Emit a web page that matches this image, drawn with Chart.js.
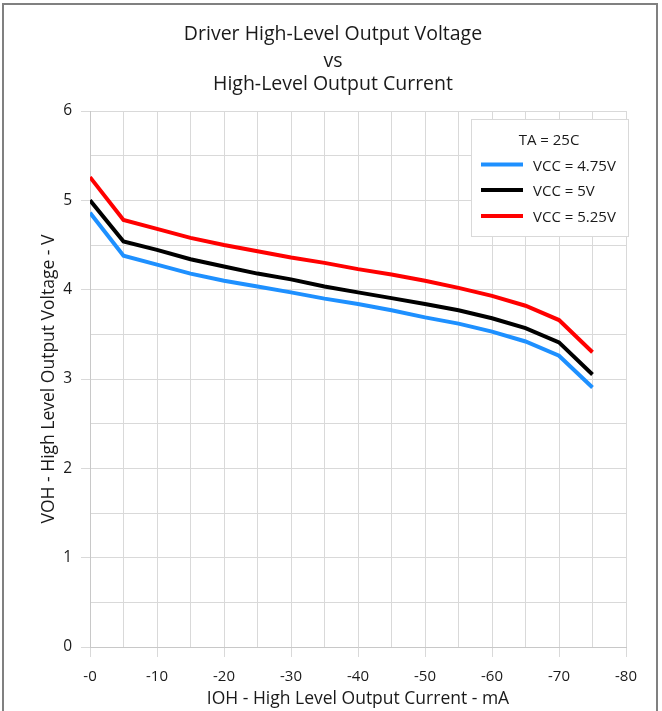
<!DOCTYPE html>
<html>
<head>
<meta charset="utf-8">
<script src="https://cdn.jsdelivr.net/npm/chart.js@4.4.1/dist/chart.umd.min.js"></script>
<style>
  html, body { margin: 0; padding: 0; background: #ffffff; }
  #wrap { width: 662px; height: 711px; position: relative; }
  canvas { display: block; }
</style>
</head>
<body>
<div id="wrap"><canvas id="c" width="662" height="711"></canvas></div>
<script>
// ---- data ----
const currents = [0, -5, -10, -15, -20, -25, -30, -35, -40, -45, -50, -55, -60, -65, -70, -75];
const voh475 = [4.86, 4.38, 4.28, 4.18, 4.10, 4.035, 3.97, 3.90, 3.84, 3.77, 3.69, 3.62, 3.53, 3.42, 3.26, 2.905];
const voh500 = [5.00, 4.54, 4.445, 4.34, 4.26, 4.18, 4.115, 4.035, 3.97, 3.905, 3.84, 3.77, 3.68, 3.57, 3.41, 3.05];
const voh525 = [5.26, 4.78, 4.68, 4.58, 4.50, 4.43, 4.36, 4.30, 4.23, 4.17, 4.10, 4.02, 3.93, 3.82, 3.66, 3.30];
const seriesLabels = ['VCC = 4.75V', 'VCC = 5V', 'VCC = 5.25V'];
const legendTitle = 'TA = 25C';
const titleLines = ['Driver High-Level Output Voltage', 'vs', 'High-Level Output Current'];
const xTickValues = [0, -10, -20, -30, -40, -50, -60, -70, -80];
const xTickLabels = ['-0', '-10', '-20', '-30', '-40', '-50', '-60', '-70', '-80'];
const yTickValues = [0, 1, 2, 3, 4, 5, 6];
const yTickLabels = ['0', '1', '2', '3', '4', '5', '6'];
const xTitle = 'IOH - High Level Output Current - mA';
const yTitle = 'VOH - High Level Output Voltage - V';

const FONT = "'Open Sans', 'Noto Sans', sans-serif";
const TEXT = '#1a1a1a';
const GRID = '#d9d9d9';
const colors = ['rgb(30,144,255)', '#000000', '#ff0000'];

function pts(ys) { return currents.map((x, i) => ({ x: x, y: ys[i] })); }

const decor = {
  id: 'decor',
  afterDraw(chart) {
    const ctx = chart.ctx;
    ctx.save();
    // outer frame
    ctx.strokeStyle = '#808080';
    ctx.lineWidth = 2;
    ctx.strokeRect(3, 4, 654, 730);
    // title
    ctx.fillStyle = TEXT;
    ctx.textAlign = 'center';
    ctx.textBaseline = 'alphabetic';
    ctx.font = '19.5px ' + FONT;
    const baselines = [40, 67, 90];
    titleLines.forEach((t, i) => ctx.fillText(t, 333, baselines[i]));
    // legend box
    ctx.fillStyle = '#ffffff';
    ctx.fillRect(471.5, 119.5, 157, 117);
    ctx.strokeStyle = GRID;
    ctx.lineWidth = 1;
    ctx.strokeRect(471.5, 119.5, 157, 117);
    ctx.fillStyle = TEXT;
    ctx.font = '15px ' + FONT;
    ctx.textAlign = 'center';
    ctx.fillText(legendTitle, 549, 145);
    const rows = [164.5, 190, 216];
    chart.data.datasets.forEach((ds, i) => {
      ctx.strokeStyle = ds.borderColor;
      ctx.lineWidth = 4;
      ctx.beginPath();
      ctx.moveTo(481, rows[i]);
      ctx.lineTo(523, rows[i]);
      ctx.stroke();
      ctx.fillStyle = TEXT;
      ctx.textAlign = 'left';
      ctx.fillText(ds.label, 533, rows[i] + 6);
    });
    ctx.restore();
  }
};

new Chart(document.getElementById('c'), {
  type: 'line',
  data: {
    datasets: [
      { label: seriesLabels[0], data: pts(voh475), borderColor: colors[0], backgroundColor: colors[0] },
      { label: seriesLabels[1], data: pts(voh500), borderColor: colors[1], backgroundColor: colors[1] },
      { label: seriesLabels[2], data: pts(voh525), borderColor: colors[2], backgroundColor: colors[2] }
    ]
  },
  options: {
    responsive: false,
    animation: false,
    devicePixelRatio: 1,
    layout: { padding: { top: 111, left: 0, right: 36, bottom: 0 } },
    elements: {
      point: { radius: 0, hoverRadius: 0 },
      line: { borderWidth: 4, tension: 0, fill: false }
    },
    plugins: {
      legend: { display: false },
      title: { display: false },
      tooltip: { enabled: false }
    },
    scales: {
      x: {
        type: 'linear',
        min: -80,
        max: 0,
        reverse: true,
        afterFit(scale) { scale.height = 64; },
        ticks: {
          stepSize: 5,
          autoSkip: false,
          maxRotation: 0,
          padding: 11,
          color: TEXT,
          font: { family: FONT, size: 15 },
          callback(v) {
            const i = xTickValues.findIndex(t => Math.abs(t - v) < 1e-9);
            return i >= 0 ? xTickLabels[i] : '';
          }
        },
        grid: {
          color: GRID,
          lineWidth: 1,
          tickLength: 10,
          tickColor(ctx) {
            const v = ctx.tick ? ctx.tick.value : 1;
            return Math.abs(v) % 10 === 0 ? GRID : 'rgba(0,0,0,0)';
          }
        },
        border: { display: true, color: '#c8c8c8', width: 1 },
        title: {
          display: true,
          text: xTitle,
          color: TEXT,
          font: { family: FONT, size: 17.5, lineHeight: 1 },
          padding: { top: 0, bottom: 3 }
        }
      },
      y: {
        type: 'linear',
        min: 0,
        max: 6,
        afterFit(scale) { scale.width = 90; },
        ticks: {
          stepSize: 0.5,
          autoSkip: false,
          padding: 9,
          color: TEXT,
          font: { family: FONT, size: 15.5 },
          callback(v) {
            const i = yTickValues.findIndex(t => Math.abs(t - v) < 1e-9);
            return i >= 0 ? yTickLabels[i] : '';
          }
        },
        grid: {
          color: GRID,
          lineWidth: 1,
          tickLength: 9,
          tickColor(ctx) {
            const v = ctx.tick ? ctx.tick.value : 0.5;
            return Math.abs(v - Math.round(v)) < 1e-9 ? GRID : 'rgba(0,0,0,0)';
          }
        },
        border: { display: true, color: '#c8c8c8', width: 1 },
        title: {
          display: true,
          text: yTitle,
          color: TEXT,
          font: { family: FONT, size: 17.5, lineHeight: 1 },
          padding: { top: 40, bottom: 0 }
        }
      }
    }
  },
  plugins: [decor]
});
</script>
</body>
</html>
